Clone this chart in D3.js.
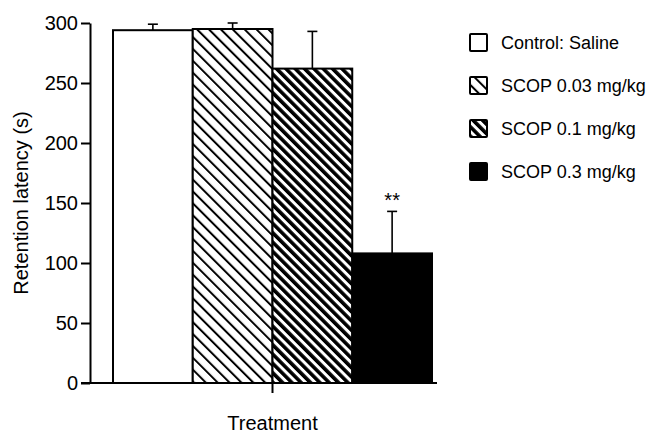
<!DOCTYPE html>
<html>
<head>
    <meta charset="utf-8">
    <title>Retention latency</title>
    <script src="https://d3js.org/d3.v7.min.js"></script>
    <style>
        body { margin: 0; background: #fff; }
        svg { display: block; font-family: "Liberation Sans", Arial, Helvetica, sans-serif; }
    </style>
</head>
<body>
    <svg id="chart"></svg>
    <script>
        // data
        var groups = ["Control: Saline", "SCOP 0.03 mg/kg", "SCOP 0.1 mg/kg", "SCOP 0.3 mg/kg"];
        var means = [294, 295, 262, 108];
        var errors = [5, 5, 31, 35];
        var fills = ["#fff", "url(#thin)", "url(#thick)", "#000"];
        var yTicks = [0, 50, 100, 150, 200, 250, 300];
        var marks = ["", "", "", "**"];

        var width = 653, height = 436;

        var svg = d3.select("#chart")
            .attr("width", width)
            .attr("height", height);

        // hatch patterns
        var defs = svg.append("defs");
        defs.append("pattern")
            .attr("id", "thin")
            .attr("patternUnits", "userSpaceOnUse")
            .attr("width", 8.4).attr("height", 8.4)
            .attr("patternTransform", "rotate(-45)")
            .call(function(p) {
                p.append("rect").attr("width", 8.4).attr("height", 8.4).attr("fill", "#fff");
                p.append("rect").attr("width", 2).attr("height", 8.4).attr("fill", "#000");
            });
        defs.append("pattern")
            .attr("id", "thick")
            .attr("patternUnits", "userSpaceOnUse")
            .attr("width", 6.6).attr("height", 6.6)
            .attr("patternTransform", "rotate(-45)")
            .call(function(p) {
                p.append("rect").attr("width", 6.6).attr("height", 6.6).attr("fill", "#fff");
                p.append("rect").attr("width", 3.6).attr("height", 6.6).attr("fill", "#000");
            });

        var x = d3.scaleBand()
            .domain(groups)
            .range([113, 432])
            .padding(0);

        var y = d3.scaleLinear()
            .domain([0, 300])
            .range([383, 23]);

        // bars
        svg.selectAll("rect.bar")
            .data(groups)
            .enter()
            .append("rect")
            .attr("class", "bar")
            .attr("x", function(d) { return x(d); })
            .attr("y", function(d, i) { return y(means[i]); })
            .attr("width", x.bandwidth())
            .attr("height", function(d, i) { return y(0) - y(means[i]); })
            .attr("fill", function(d, i) { return fills[i]; })
            .attr("stroke", "#000")
            .attr("stroke-width", 2);

        // error bars (upper only)
        var err = svg.selectAll("g.err")
            .data(groups)
            .enter()
            .append("g")
            .attr("class", "err")
            .attr("transform", function(d) { return "translate(" + (x(d) + x.bandwidth() / 2) + ",0)"; });

        err.append("line")
            .attr("y1", function(d, i) { return y(means[i]); })
            .attr("y2", function(d, i) { return y(means[i] + errors[i]); })
            .attr("stroke", "#000")
            .attr("stroke-width", 1.6);
        err.append("line")
            .attr("x1", -5).attr("x2", 5)
            .attr("y1", function(d, i) { return y(means[i] + errors[i]); })
            .attr("y2", function(d, i) { return y(means[i] + errors[i]); })
            .attr("stroke", "#000")
            .attr("stroke-width", 1.6);
        err.append("text")
            .attr("y", function(d, i) { return y(means[i] + errors[i]) - 4; })
            .attr("text-anchor", "middle")
            .attr("font-size", 20)
            .text(function(d, i) { return marks[i]; });

        // y axis
        var yAxis = svg.append("g")
            .attr("transform", "translate(90,0)")
            .call(d3.axisLeft(y).tickValues(yTicks).tickSize(9).tickPadding(3).tickSizeOuter(0));
        yAxis.select(".domain").attr("stroke-width", 2);
        yAxis.selectAll(".tick line").attr("stroke-width", 2);
        yAxis.selectAll(".tick text").attr("font-size", 20).attr("fill", "#000")
            .attr("font-family", "\"Liberation Sans\", Arial, sans-serif");

        // x axis: one centred tick
        var xAxis = svg.append("g")
            .attr("transform", "translate(0," + y(0) + ")");
        xAxis.append("line")
            .attr("x1", 81).attr("x2", 437)
            .attr("stroke", "#000").attr("stroke-width", 2);
        xAxis.append("line")
            .attr("x1", (x.range()[0] + x.range()[1]) / 2)
            .attr("x2", (x.range()[0] + x.range()[1]) / 2)
            .attr("y1", 0).attr("y2", 10)
            .attr("stroke", "#000").attr("stroke-width", 2);

        // axis titles
        svg.append("text")
            .attr("x", (x.range()[0] + x.range()[1]) / 2)
            .attr("y", 430)
            .attr("text-anchor", "middle")
            .attr("font-size", 20)
            .text("Treatment");

        svg.append("text")
            .attr("transform", "translate(28," + ((y(0) + y(300)) / 2) + ") rotate(-90)")
            .attr("text-anchor", "middle")
            .attr("font-size", 20)
            .text("Retention latency (s)");

        // legend
        var legend = svg.selectAll("g.legend")
            .data(groups)
            .enter()
            .append("g")
            .attr("class", "legend")
            .attr("transform", function(d, i) { return "translate(470," + (43 + i * 43) + ")"; });

        legend.append("rect")
            .attr("x", 0).attr("y", -9)
            .attr("width", 17).attr("height", 17)
            .attr("rx", 1)
            .attr("fill", function(d, i) { return fills[i]; })
            .attr("stroke", "#000")
            .attr("stroke-width", 2);

        legend.append("text")
            .attr("x", 31)
            .attr("y", 0)
            .attr("dy", "0.35em")
            .attr("font-size", 18)
            .text(function(d) { return d; });
    </script>
</body>
</html>
